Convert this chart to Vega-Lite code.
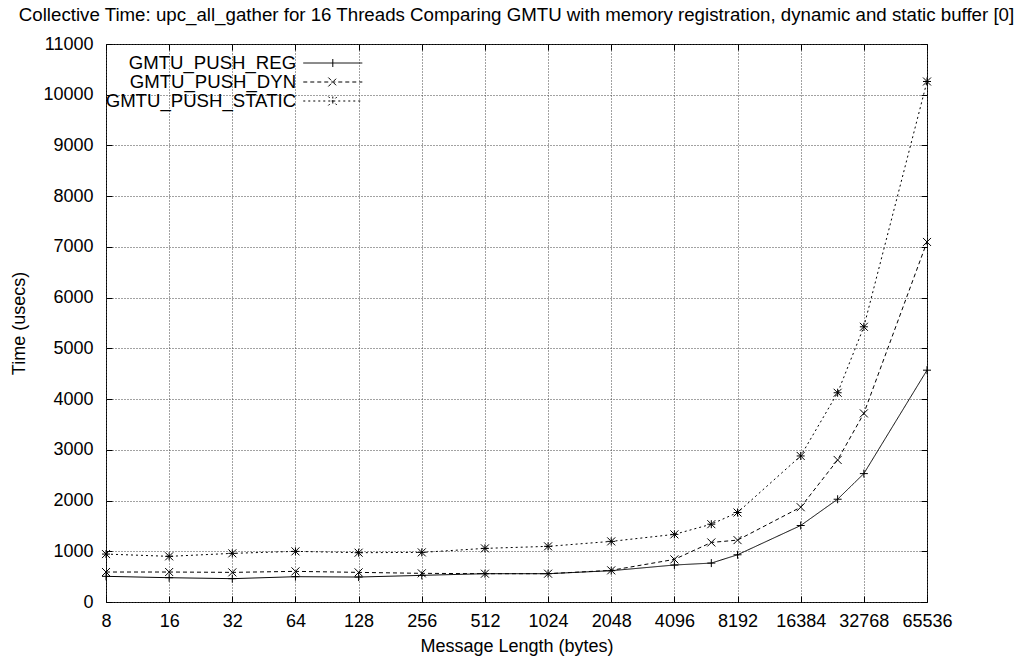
{
  "$schema": "https://vega.github.io/schema/vega-lite/v6.json",
  "autosize": "none",
  "width": 821,
  "height": 558,
  "padding": {"left": 106, "top": 44, "right": 93, "bottom": 62},
  "background": "white",
  "title": {
    "text": "Collective Time: upc_all_gather for 16 Threads Comparing GMTU with memory registration, dynamic and static buffer [0]",
    "font": "Liberation Sans",
    "fontSize": 18.7,
    "fontWeight": "normal",
    "color": "black",
    "anchor": "middle",
    "offset": 10
  },
  "config": {
    "view": {"stroke": "black", "strokeWidth": 1},
    "axis": {
      "labelFont": "Liberation Sans",
      "labelFontSize": 18,
      "labelColor": "black",
      "titleFont": "Liberation Sans",
      "titleFontSize": 18,
      "titleFontWeight": "normal",
      "titleColor": "black",
      "domainColor": "black",
      "tickColor": "black",
      "tickWidth": 1,
      "tickSize": -6,
      "gridColor": "#444",
      "gridDash": [1, 2],
      "gridWidth": 1
    },
    "legend": {
      "orient": "none",
      "legendX": 196,
      "legendY": 9.7,
      "title": null,
      "padding": 0,
      "rowPadding": 0,
      "symbolSize": 256,
      "symbolOffset": 21.5,
      "symbolStrokeWidth": 1,
      "symbolStrokeColor": "black",
      "symbolFillColor": "transparent",
      "symbolOpacity": 1,
      "labelAlign": "right",
      "labelOffset": -46,
      "labelFont": "Liberation Sans",
      "labelFontSize": 18.6,
      "labelColor": "black",
      "labelLimit": 400
    }
  },
  "data": {
    "values": [
      {"bytes": 8, "series": "GMTU_PUSH_REG", "usecs": 506},
      {"bytes": 16, "series": "GMTU_PUSH_REG", "usecs": 479},
      {"bytes": 32, "series": "GMTU_PUSH_REG", "usecs": 460},
      {"bytes": 64, "series": "GMTU_PUSH_REG", "usecs": 499},
      {"bytes": 128, "series": "GMTU_PUSH_REG", "usecs": 492},
      {"bytes": 256, "series": "GMTU_PUSH_REG", "usecs": 525},
      {"bytes": 512, "series": "GMTU_PUSH_REG", "usecs": 558},
      {"bytes": 1024, "series": "GMTU_PUSH_REG", "usecs": 558},
      {"bytes": 2048, "series": "GMTU_PUSH_REG", "usecs": 617},
      {"bytes": 4096, "series": "GMTU_PUSH_REG", "usecs": 729},
      {"bytes": 6144, "series": "GMTU_PUSH_REG", "usecs": 767},
      {"bytes": 8192, "series": "GMTU_PUSH_REG", "usecs": 931},
      {"bytes": 16384, "series": "GMTU_PUSH_REG", "usecs": 1508},
      {"bytes": 24576, "series": "GMTU_PUSH_REG", "usecs": 2026},
      {"bytes": 32768, "series": "GMTU_PUSH_REG", "usecs": 2531},
      {"bytes": 65536, "series": "GMTU_PUSH_REG", "usecs": 4570},
      {"bytes": 8, "series": "GMTU_PUSH_DYN", "usecs": 591},
      {"bytes": 16, "series": "GMTU_PUSH_DYN", "usecs": 591},
      {"bytes": 32, "series": "GMTU_PUSH_DYN", "usecs": 584},
      {"bytes": 64, "series": "GMTU_PUSH_DYN", "usecs": 604},
      {"bytes": 128, "series": "GMTU_PUSH_DYN", "usecs": 584},
      {"bytes": 256, "series": "GMTU_PUSH_DYN", "usecs": 565},
      {"bytes": 512, "series": "GMTU_PUSH_DYN", "usecs": 558},
      {"bytes": 1024, "series": "GMTU_PUSH_DYN", "usecs": 558},
      {"bytes": 2048, "series": "GMTU_PUSH_DYN", "usecs": 624},
      {"bytes": 4096, "series": "GMTU_PUSH_DYN", "usecs": 840},
      {"bytes": 6144, "series": "GMTU_PUSH_DYN", "usecs": 1174},
      {"bytes": 8192, "series": "GMTU_PUSH_DYN", "usecs": 1220},
      {"bytes": 16384, "series": "GMTU_PUSH_DYN", "usecs": 1869},
      {"bytes": 24576, "series": "GMTU_PUSH_DYN", "usecs": 2800},
      {"bytes": 32768, "series": "GMTU_PUSH_DYN", "usecs": 3718},
      {"bytes": 65536, "series": "GMTU_PUSH_DYN", "usecs": 7098},
      {"bytes": 8, "series": "GMTU_PUSH_STATIC", "usecs": 945},
      {"bytes": 16, "series": "GMTU_PUSH_STATIC", "usecs": 900},
      {"bytes": 32, "series": "GMTU_PUSH_STATIC", "usecs": 959},
      {"bytes": 64, "series": "GMTU_PUSH_STATIC", "usecs": 998},
      {"bytes": 128, "series": "GMTU_PUSH_STATIC", "usecs": 972},
      {"bytes": 256, "series": "GMTU_PUSH_STATIC", "usecs": 978},
      {"bytes": 512, "series": "GMTU_PUSH_STATIC", "usecs": 1057},
      {"bytes": 1024, "series": "GMTU_PUSH_STATIC", "usecs": 1097},
      {"bytes": 2048, "series": "GMTU_PUSH_STATIC", "usecs": 1195},
      {"bytes": 4096, "series": "GMTU_PUSH_STATIC", "usecs": 1333},
      {"bytes": 6144, "series": "GMTU_PUSH_STATIC", "usecs": 1534},
      {"bytes": 8192, "series": "GMTU_PUSH_STATIC", "usecs": 1764},
      {"bytes": 16384, "series": "GMTU_PUSH_STATIC", "usecs": 2879},
      {"bytes": 24576, "series": "GMTU_PUSH_STATIC", "usecs": 4125},
      {"bytes": 32768, "series": "GMTU_PUSH_STATIC", "usecs": 5425},
      {"bytes": 65536, "series": "GMTU_PUSH_STATIC", "usecs": 10261}
    ]
  },
  "resolve": {
    "axis": {"x": "independent", "y": "independent"},
    "scale": {"shape": "independent"},
    "legend": {"shape": "independent", "strokeDash": "independent"}
  },
  "layer": [
    {
      "mark": {"type": "line", "color": "black", "strokeWidth": 1},
      "encoding": {
        "x": {
          "field": "bytes", "type": "quantitative",
          "scale": {"type": "log", "base": 2, "domain": [8, 65536], "nice": false},
          "axis": {
            "orient": "bottom",
            "values": [8, 16, 32, 64, 128, 256, 512, 1024, 2048, 4096, 8192, 16384, 32768, 65536],
            "format": "d",
            "labelPadding": 16,
            "labelFlush": false,
            "labelOverlap": false,
            "title": "Message Length (bytes)",
            "titlePadding": 7,
            "grid": true,
            "domain": false
          }
        },
        "y": {
          "field": "usecs", "type": "quantitative",
          "scale": {"domain": [0, 11000], "nice": false, "zero": true},
          "axis": {
            "orient": "left",
            "values": [0, 1000, 2000, 3000, 4000, 5000, 6000, 7000, 8000, 9000, 10000, 11000],
            "format": "d",
            "labelPadding": 19,
            "labelFlush": false,
            "labelOverlap": false,
            "title": "Time (usecs)",
            "titlePadding": 14,
            "grid": true,
            "domain": false
          }
        },
        "detail": {"field": "series"},
        "strokeDash": {
          "field": "series", "type": "nominal",
          "scale": {
            "domain": ["GMTU_PUSH_REG", "GMTU_PUSH_DYN", "GMTU_PUSH_STATIC"],
            "range": [[1, 0], [4, 3], [2, 3]]
          },
          "legend": null
        }
      }
    },
    {
      "mark": {"type": "point", "filled": false, "color": "black", "strokeWidth": 1, "size": 64, "opacity": 1},
      "encoding": {
        "x": {
          "field": "bytes", "type": "quantitative",
          "axis": {"orient": "top", "labels": false, "title": null, "grid": false, "domain": false,
                   "values": [8, 16, 32, 64, 128, 256, 512, 1024, 2048, 4096, 8192, 16384, 32768, 65536]}
        },
        "y": {
          "field": "usecs", "type": "quantitative",
          "axis": {"orient": "right", "labels": false, "title": null, "grid": false, "domain": false,
                   "values": [0, 1000, 2000, 3000, 4000, 5000, 6000, 7000, 8000, 9000, 10000, 11000]}
        },
        "shape": {
          "field": "series", "type": "nominal",
          "scale": {
            "domain": ["GMTU_PUSH_REG", "GMTU_PUSH_DYN", "GMTU_PUSH_STATIC"],
            "range": [
              "M-1,0H1M0,-1V1",
              "M-1,-1L1,1M-1,1L1,-1",
              "M-1,0H1M0,-1V1M-1,-1L1,1M-1,1L1,-1"
            ]
          },
          "legend": null
        }
      }
    },
    {
      "mark": {"type": "point", "filled": false, "color": "black", "strokeWidth": 1, "opacity": 0},
      "encoding": {
        "x": {"field": "bytes", "type": "quantitative", "axis": null},
        "y": {"field": "usecs", "type": "quantitative", "axis": null},
        "shape": {
          "field": "series", "type": "nominal",
          "scale": {
            "domain": ["GMTU_PUSH_REG", "GMTU_PUSH_DYN", "GMTU_PUSH_STATIC"],
            "range": [
              "M-3.69,0H3.69M0,-0.5V0.5",
              "M-3.69,0H3.69M-0.56,-0.56L0.56,0.56M-0.56,0.56L0.56,-0.56",
              "M-3.69,0H3.69M0,-0.56V0.56M-0.56,-0.56L0.56,0.56M-0.56,0.56L0.56,-0.56"
            ]
          },
          "legend": {}
        },
        "strokeDash": {
          "field": "series", "type": "nominal",
          "scale": {
            "domain": ["GMTU_PUSH_REG", "GMTU_PUSH_DYN", "GMTU_PUSH_STATIC"],
            "range": [[1, 0], [4, 3], [2, 3]]
          },
          "legend": {}
        }
      }
    }
  ]
}
